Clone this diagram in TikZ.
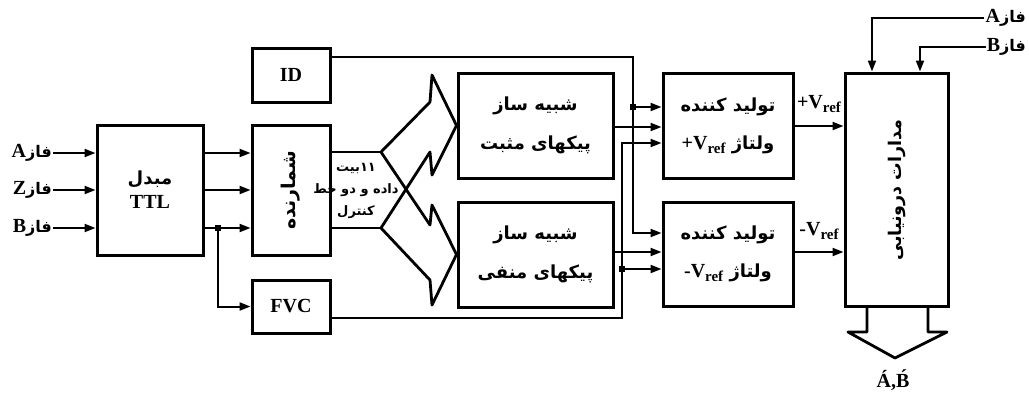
\documentclass[tikz,border=0pt]{standalone}
\usepackage{fontspec}
\setmainfont{Liberation Serif}
\newfontfamily\fa[Script=Arabic]{DejaVu Sans}
\TeXXeTstate=1
\usetikzlibrary{arrows.meta}
\newcommand\vrf{\textbf{V}\raisebox{-.45ex}{\bfseries\fontsize{15}{15}\selectfont ref}}
\newcommand\pf[1]{{\fa\bfseries\beginR #1\endR}}
\begin{document}
\begin{tikzpicture}[x=1pt,y=-1pt,
 box/.style={draw,line width=3pt,inner sep=0pt},
 conn/.style={line width=2pt,-{Triangle[length=11pt,width=8pt]}},
 wire/.style={line width=2pt},
 bus/.style={line width=2.8pt,line join=round},
 dot/.style={fill,minimum size=6pt,inner sep=0pt},
 lat/.style={font=\bfseries\fontsize{20}{22}\selectfont},
 lbl/.style={font=\bfseries\fontsize{20}{22}\selectfont,inner sep=1pt}
]
\useasboundingbox[fill=white] (0,0) rectangle (1029,392);

% boxes
\node[box,minimum width=106,minimum height=130,align=center,font=\bfseries\fontsize{20}{26}\selectfont] (ttl) at (150,190) {\pf{\fontsize{18}{26}\selectfont مبدل}\\[-2pt]TTL};
\node[box,minimum width=78,minimum height=130] (cnt) at (291,190) {};
\node[rotate=90,font=\fa\bfseries\fontsize{19}{20}\selectfont] (cntT) at (291,190) {\beginR شمارنده\endR};
\node[box,minimum width=78,minimum height=54,lat] (id) at (291,75) {ID};
\node[box,minimum width=78,minimum height=53,lat] (fvc) at (291,306.5) {FVC};

\node[box,minimum width=155,minimum height=105,align=center,font=\fa\bfseries\fontsize{18}{39}\selectfont] (pp) at (535.5,125.5) {\beginR شبیه ساز\endR\\\beginR پیکهای مثبت\endR};
\node[box,minimum width=155,minimum height=105,align=center,font=\fa\bfseries\fontsize{18}{39}\selectfont] (pn) at (535.5,254.5) {\beginR شبیه ساز\endR\\\beginR پیکهای منفی\endR};

\node[box,minimum width=130,minimum height=105,align=center,font=\fa\bfseries\fontsize{18}{38}\selectfont] (g1) at (728,125.5) {\beginR تولید کننده\endR\\{\fontsize{20}{20}\selectfont\rmfamily\bfseries +\vrf}\ \beginR ولتاژ\endR};
\node[box,minimum width=130,minimum height=104,align=center,font=\fa\bfseries\fontsize{18}{38}\selectfont] (g2) at (728,254) {\beginR تولید کننده\endR\\{\fontsize{20}{20}\selectfont\rmfamily\bfseries -\vrf}\ \beginR ولتاژ\endR};

\node[box,minimum width=103,minimum height=233] (ip) at (896.5,189.5) {};
\node[rotate=90,font=\fa\bfseries\fontsize{17.5}{18}\selectfont] (ipT) at (897,190) {\beginR مدارات درونیابی\endR};

% inputs
\node[lbl,anchor=east] (inA) at (53,153) {A\pf{\fontsize{16}{18}\selectfont فاز}};
\node[lbl,anchor=east] (inZ) at (53,190) {Z\pf{\fontsize{16}{18}\selectfont فاز}};
\node[lbl,anchor=east] (inB) at (53,228) {B\pf{\fontsize{16}{18}\selectfont فاز}};
\draw[conn] (inA.east) -- (ttl.west |- inA.east);
\draw[conn] (inZ.east) -- (ttl.west |- inZ.east);
\draw[conn] (inB.east) -- (ttl.west |- inB.east);

\draw[conn] (ttl.east |- 0,153) -- (cnt.west |- 0,153);
\draw[conn] (ttl.east |- 0,190) -- (cnt.west |- 0,190);
\draw[conn] (ttl.east |- 0,228) -- (cnt.west |- 0,228);
\coordinate (j4) at (218,228);
\draw[conn] (j4) |- (fvc.west);
\node[dot] (d4) at (j4) {};

% counter to bus arrows
\coordinate (b1) at (381,152);
\coordinate (b2) at (381,228);
\draw[wire] (cnt.east |- b1) -- (b1);
\draw[wire] (cnt.east |- b2) -- (b2);
\draw[bus] (b1) -- (430,102) -- (432,75) -- (pp.west) -- (432,175) -- (430,152) -- (b2);
\draw[bus] (b1) -- (430,225) -- (432,205) -- (pn.west) -- (432,305) -- (430,280) -- (b2);
\node[font=\fa\bfseries\fontsize{13}{22}\selectfont,align=center] (busT) at (356,191) {\mbox{\beginR بیت\endR}\mbox{۱۱}\\\beginR داده و دو خط\endR\\\beginR کنترل\endR};

% ID wiring
\coordinate (j0) at (633,57);
\coordinate (j1) at (633,107);
\coordinate (j1b) at (633,233);
\draw[conn] (id.east |- j0) -- (j0) -- (j1b) -- (g2.west |- j1b);
\draw[conn] (j1) -- (g1.west |- j1);
\node[dot] (d1) at (j1) {};

% FVC wiring
\coordinate (j2) at (622,318);
\coordinate (j2t) at (622,143);
\coordinate (j3) at (622,269);
\draw[conn] (fvc.east |- j2) -- (j2) -- (j2t) -- (g1.west |- j2t);
\draw[conn] (j3) -- (g2.west |- j3);
\node[dot] (d3) at (j3) {};

% pulse outputs
\draw[conn] (pp.east |- 0,127) -- (g1.west |- 0,127);
\draw[conn] (pn.east |- 0,252) -- (g2.west |- 0,252);

% generator outputs
\draw[conn] (g1.east |- 0,126) -- (ip.west |- 0,126);
\draw[conn] (g2.east |- 0,252) -- (ip.west |- 0,252);
\node[font=\bfseries\fontsize{20}{20}\selectfont,inner sep=0pt] (vp) at (819,104) {+\vrf};
\node[font=\bfseries\fontsize{20}{20}\selectfont,inner sep=0pt] (vn) at (819,231) {-\vrf};

% phase A, B to interpolation
\node[lbl,anchor=east] (pA) at (1027,18) {A\pf{\fontsize{16}{18}\selectfont فاز}};
\node[lbl,anchor=east] (pB) at (1027,47) {B\pf{\fontsize{16}{18}\selectfont فاز}};
\draw[conn] (pA.west) -| (ip.north -| 872,0);
\draw[conn] (pB.west) -| (ip.north -| 920,0);

% output bus
\draw[bus] (ip.south -| 867,0) -- (867,332) -- (848,332) -- (895,358) -- (947,332) -- (928,332) -- (ip.south -| 928,0);
\node[font=\bfseries\fontsize{20}{20}\selectfont] (ab) at (893,380) {\'A,\'B};
\end{tikzpicture}
\end{document}
